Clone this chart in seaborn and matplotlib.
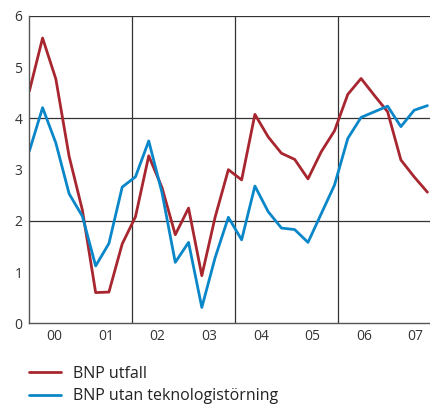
import numpy as np
import pandas as pd
import seaborn as sns
import matplotlib.pyplot as plt

# Quarterly GDP growth, 2000K1 - 2007K3
quarters = [f"{y}K{q}" for y in range(2000, 2008) for q in range(1, 5)][:31]
bnp_utfall = [4.53, 5.57, 4.77, 3.26, 2.21, 0.60, 0.61, 1.55, 2.08, 3.27,
              2.65, 1.73, 2.25, 0.93, 2.07, 3.00, 2.80, 4.08, 3.64, 3.32,
              3.20, 2.82, 3.35, 3.76, 4.47, 4.78, 4.45, 4.13, 3.19, 2.86, 2.56]
bnp_utan_tekn = [3.36, 4.21, 3.52, 2.53, 2.09, 1.12, 1.56, 2.66, 2.86, 3.56,
                 2.55, 1.19, 1.58, 0.31, 1.28, 2.07, 1.63, 2.68, 2.18, 1.86,
                 1.83, 1.58, 2.14, 2.70, 3.61, 4.02, 4.13, 4.24, 3.84, 4.16, 4.25]
year_labels = ["00", "01", "02", "03", "04", "05", "06", "07"]
series_names = ["BNP utfall", "BNP utan teknologistörning"]

df = pd.DataFrame({
    "idx": list(range(len(quarters))) * 2,
    "kvartal": quarters * 2,
    "value": bnp_utfall + bnp_utan_tekn,
    "serie": [series_names[0]] * len(quarters) + [series_names[1]] * len(quarters),
})

sns.set_style("white")
plt.rcParams["font.family"] = ["Open Sans", "DejaVu Sans"]

fig = plt.figure(figsize=(4.31, 4.05), dpi=100)
ax = fig.add_axes([0.068, 0.2017, 0.932, 0.7588])

sns.lineplot(data=df, x="idx", y="value", hue="serie",
             palette=["#A8262F", "#0A87C9"], linewidth=2.0, ax=ax, legend=False)

# year boundaries in quarter-index units (as drawn in the original)
year_w = 3.889
bounds = 3.84 + year_w * np.arange(7)
centers = np.append(bounds - year_w / 2, bounds[-1] + year_w / 2)

ax.set_xlim(0, 30.27)
ax.set_ylim(0, 6)
ax.set_xticks(bounds)
ax.set_xticklabels([])
ax.set_xticks(centers, minor=True)
ax.set_xticklabels(year_labels, minor=True)
ax.tick_params(axis="x", which="major", direction="in", length=7, width=0.9, color="#444444")
ax.tick_params(axis="x", which="minor", length=0, pad=4, labelsize=10, labelcolor="#333333")
ax.set_yticks(range(0, 7))
ax.tick_params(axis="y", direction="in", length=7, width=0.9, color="#444444",
               pad=5, labelsize=10, labelcolor="#333333")

for b in bounds[1::2]:
    ax.axvline(b, color="#333333", linewidth=0.9, zorder=0)
for yv in [2, 4, 6]:
    ax.axhline(yv, color="#333333", linewidth=0.9, zorder=0)

for side in ["top", "right"]:
    ax.spines[side].set_visible(False)
for side in ["left", "bottom"]:
    ax.spines[side].set_color("#555555")
    ax.spines[side].set_linewidth(1.0)

ax.set_xlabel("")
ax.set_ylabel("")

handles = [plt.Line2D([], [], color=c, linewidth=2.0) for c in ["#A8262F", "#0A87C9"]]
fig.legend(handles, series_names, loc="upper left", bbox_to_anchor=(0.068, 0.097),
           frameon=False, fontsize=11.5, handlelength=2.0, handletextpad=0.75,
           labelspacing=0.42, borderpad=0, borderaxespad=0, labelcolor="#222222")

fig.savefig("out.png", dpi=100)
